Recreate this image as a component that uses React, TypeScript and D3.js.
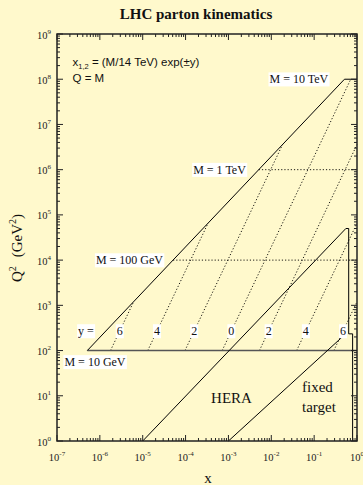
import { useEffect, useRef } from "react";
import * as d3 from "d3";

// rapidity lines: x1,2 = (M/14 TeV) exp(±y), from M = 10 GeV up to the kinematic edge
const rapidityLabels = ["6", "4", "2", "0", "2", "4", "6"];
const rapidityXLow = [1.77e-6, 1.31e-5, 9.67e-5, 7.14e-4, 5.28e-3, 3.9e-2, 2.88e-1];
const rapidityXHigh = [6.14e-6, 3.35e-4, 1.83e-2, 7.14e-1, 1, 1, 1];
const rapidityQ2High = [1.2e3, 6.57e4, 3.59e6, 1e8, 3.59e6, 6.57e4, 1.2e3];
const rapidityLabelX = [2.91e-6, 2.15e-5, 1.59e-4, 1.17e-3, 8.67e-3, 6.41e-2, 4.73e-1];
const rapidityLabelQ2 = 270;

// fixed mass lines Q = M
const massLabels = ["M = 10 GeV", "M = 100 GeV", "M = 1 TeV", "M = 10 TeV"];
const massQ2 = [1e2, 1e4, 1e6, 1e8];
const massXStart = [5.1e-7, 5.1e-5, 5.1e-3, 0.51];
const massLabelX = [7.7e-7, 4.9e-6, 6.2e-4, 4.4e-2];
const massLabelQ2 = [56, 1e4, 1e6, 1e8];

// region boundaries [x, Q2]
const lhcEdge: [number, number][] = [[5.1e-7, 1e2], [0.51, 1e8]];
const heraEdge: [number, number][] = [
  [1e-5, 1], [0.55, 5e4], [0.64, 5e4], [0.64, 234], [0.79, 234], [0.79, 1],
];
const fixedTargetEdge: [number, number][] = [[1e-3, 1], [0.44, 195]];

const xDecades = [-7, -6, -5, -4, -3, -2, -1, 0];
const yDecades = [0, 1, 2, 3, 4, 5, 6, 7, 8, 9];

const App = () => {
  const svgRef = useRef<SVGSVGElement>(null);
  const width = 363;
  const height = 485;
  const plot = { left: 57, right: 357, top: 34, bottom: 441 };
  const serif = "'Liberation Serif', 'Times New Roman', serif";
  const sans = "'Liberation Sans', Arial, sans-serif";

  useEffect(() => {
    const svg = d3.select(svgRef.current);
    svg.selectAll("*").remove();

    const x = d3.scaleLog().domain([1e-7, 1]).range([plot.left, plot.right]);
    const y = d3.scaleLog().domain([1, 1e9]).range([plot.bottom, plot.top]);
    const line = d3
      .line<[number, number]>()
      .x((d) => x(d[0]))
      .y((d) => y(d[1]));

    svg.append("rect").attr("width", width).attr("height", height).attr("fill", "#fff9cc");

    const g = svg.append("g");

    // rapidity dotted lines
    rapidityLabels.forEach((_, i) => {
      g.append("path")
        .attr("d", line([[rapidityXLow[i], 1e2], [rapidityXHigh[i], rapidityQ2High[i]]]))
        .attr("fill", "none")
        .attr("stroke", "#000")
        .attr("stroke-width", 0.9)
        .attr("stroke-dasharray", "1.2,2");
    });

    // mass lines
    massQ2.forEach((q, i) => {
      const p = g.append("path")
        .attr("d", line([[massXStart[i], q], [1, q]]))
        .attr("fill", "none");
      if (i === 0) p.attr("stroke", "#555").attr("stroke-width", 1.6);
      else if (i === 3) p.attr("stroke", "#000").attr("stroke-width", 1);
      else p.attr("stroke", "#000").attr("stroke-width", 0.9).attr("stroke-dasharray", "1.2,2");
    });

    [lhcEdge, heraEdge, fixedTargetEdge].forEach((pts) => {
      g.append("path")
        .attr("d", line(pts))
        .attr("fill", "none")
        .attr("stroke", "#000")
        .attr("stroke-width", 1);
    });

    // boxed labels
    const boxed = (cx: number, cy: number, txt: string, size: number) => {
      const lg = g.append("g");
      const rect = lg.append("rect").attr("fill", "#fff");
      const t = lg.append("text")
        .attr("x", cx)
        .attr("y", cy)
        .attr("dy", "0.35em")
        .attr("text-anchor", "middle")
        .attr("font-family", serif)
        .attr("font-size", size)
        .attr("fill", "#111")
        .text(txt);
      const b = (t.node() as SVGTextElement).getBBox();
      rect.attr("x", b.x - 1).attr("y", b.y).attr("width", b.width + 2).attr("height", b.height);
    };

    massLabels.forEach((m, i) => boxed(x(massLabelX[i]), y(massLabelQ2[i]), m, 12));
    rapidityLabels.forEach((r, i) => boxed(x(rapidityLabelX[i]), y(rapidityLabelQ2), r, 12));
    boxed(x(4.75e-7), y(rapidityLabelQ2), "y =", 12);

    // region names
    g.append("text").attr("x", 231.5).attr("y", 402.5).attr("text-anchor", "middle")
      .attr("font-family", serif).attr("font-size", 15).attr("fill", "#111").text("HERA");
    g.append("text").attr("x", 302).attr("y", 392).attr("font-family", serif)
      .attr("font-size", 15).attr("fill", "#111").text("fixed");
    g.append("text").attr("x", 302).attr("y", 411.5).attr("font-family", serif)
      .attr("font-size", 15).attr("fill", "#111").text("target");

    // formula
    const f = g.append("text").attr("x", 72.5).attr("y", 65.5)
      .attr("font-family", sans).attr("font-size", 11.5).attr("fill", "#111");
    f.append("tspan").text("x");
    f.append("tspan").attr("dy", 3).attr("font-size", 7.5).text("1,2");
    f.append("tspan").attr("dy", -3).text(" = (M/14 TeV) exp(\u00b1y)");
    g.append("text").attr("x", 72.5).attr("y", 81.5)
      .attr("font-family", sans).attr("font-size", 11.5).attr("fill", "#111").text("Q = M");

    // ticks
    const ax = svg.append("g").attr("stroke", "#222").attr("stroke-width", 1);
    xDecades.forEach((d) => {
      for (let k = 1; k <= 9; k++) {
        const v = k * Math.pow(10, d);
        if (v > 1) break;
        const px = x(v);
        const len = k === 1 ? 6 : 3;
        ax.append("line").attr("x1", px).attr("x2", px).attr("y1", plot.bottom).attr("y2", plot.bottom - len);
        ax.append("line").attr("x1", px).attr("x2", px).attr("y1", plot.top).attr("y2", plot.top + len);
      }
    });
    yDecades.forEach((d) => {
      for (let k = 1; k <= 9; k++) {
        const v = k * Math.pow(10, d);
        if (v > 1e9) break;
        const py = y(v);
        const len = k === 1 ? 6 : 3;
        ax.append("line").attr("y1", py).attr("y2", py).attr("x1", plot.left).attr("x2", plot.left + len);
        ax.append("line").attr("y1", py).attr("y2", py).attr("x1", plot.right).attr("x2", plot.right - len);
      }
    });
    svg.append("rect")
      .attr("x", plot.left).attr("y", plot.top)
      .attr("width", plot.right - plot.left).attr("height", plot.bottom - plot.top)
      .attr("fill", "none").attr("stroke", "#222").attr("stroke-width", 1.5);

    // tick labels
    xDecades.forEach((d) => {
      const t = svg.append("text").attr("x", x(Math.pow(10, d))).attr("y", 461)
        .attr("text-anchor", "middle").attr("font-family", serif).attr("font-size", 10.5).attr("fill", "#222");
      t.append("tspan").text("10");
      t.append("tspan").attr("dy", -5).attr("font-size", 7).text(String(d));
    });
    yDecades.forEach((d) => {
      const t = svg.append("text").attr("x", 51).attr("y", y(Math.pow(10, d)) + 4.5)
        .attr("text-anchor", "end").attr("font-family", serif).attr("font-size", 10.5).attr("fill", "#222");
      t.append("tspan").text("10");
      t.append("tspan").attr("dy", -5).attr("font-size", 7).text(String(d));
    });

    // titles
    svg.append("text").attr("x", 196).attr("y", 18.5).attr("text-anchor", "middle")
      .attr("font-family", serif).attr("font-weight", "bold").attr("font-size", 15)
      .attr("fill", "#111").text("LHC parton kinematics");
    svg.append("text").attr("x", 208).attr("y", 483).attr("text-anchor", "middle")
      .attr("font-family", serif).attr("font-size", 15).attr("fill", "#111").text("x");
    const yl = svg.append("text")
      .attr("transform", `translate(21.5, 248) rotate(-90)`)
      .attr("text-anchor", "middle").attr("font-family", serif).attr("font-size", 15).attr("fill", "#111");
    yl.append("tspan").text("Q");
    yl.append("tspan").attr("dy", -6).attr("font-size", 10).text("2");
    yl.append("tspan").attr("dy", 6).attr("dx", 9).text("(GeV");
    yl.append("tspan").attr("dy", -6).attr("font-size", 10).text("2");
    yl.append("tspan").attr("dy", 6).text(")");
  }, []);

  return (
    <svg
      ref={svgRef}
      width={width}
      height={height}
      style={{ position: "absolute", left: 0, top: 0 }}
    />
  );
};

export default App;
